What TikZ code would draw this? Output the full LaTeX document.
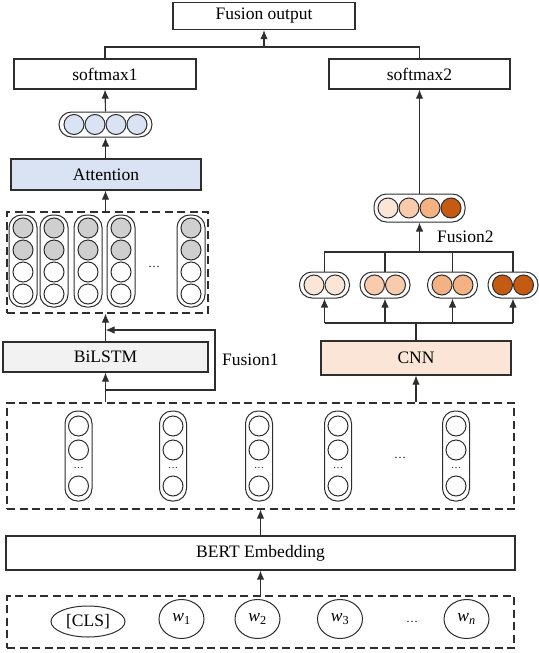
\documentclass[tikz,border=0pt]{standalone}
\usepackage{fontspec}
\setmainfont{Liberation Serif}
\usetikzlibrary{arrows.meta,shapes.geometric}
\definecolor{attblue}{HTML}{DAE3F3}
\definecolor{lstmgray}{HTML}{F2F2F2}
\definecolor{ballgray}{HTML}{CFCFCF}
\definecolor{or1}{HTML}{FBE5D6}
\definecolor{or2}{HTML}{F8CBAD}
\definecolor{or3}{HTML}{F4B183}
\definecolor{or4}{HTML}{C55A11}
\definecolor{ink}{HTML}{2E2E2E}

\begin{document}
\begin{tikzpicture}[x=1pt,y=-1pt,
  box/.style={draw=ink,line width=1.2pt,inner sep=0pt,font=\fontsize{17.5}{20}\selectfont},
  dbox/.style={draw=ink,line width=1.1pt,dash pattern=on 8pt off 4.5pt,inner sep=0pt},
  pill/.style={draw=ink,line width=1pt,rounded corners=12.5pt,inner sep=0pt},
  ball/.style={draw=ink,line width=1pt},
  arr/.style={draw=ink,line width=1.1pt,-{Latex[length=9pt,width=7.5pt]}},
  link/.style={draw=ink,line width=1.1pt},
  lbl/.style={font=\fontsize{17.5}{20}\selectfont,inner sep=0pt},
  ellip/.style={font=\fontsize{12}{14}\selectfont,inner sep=0pt}]
\useasboundingbox (0,0) rectangle (538,653);

% output side
\node[box,minimum width=182pt,minimum height=27pt] (out) at (264,16) {Fusion output};
\node[box,minimum width=182pt,minimum height=30pt] (sm1) at (105,74) {softmax1};
\node[box,minimum width=181pt,minimum height=30pt] (sm2) at (419.5,74) {softmax2};
\coordinate (top) at (264,47);
\draw[link] (sm1.north) |- (top) -| (sm2.north);
\draw[arr] (top) -- (out.south);

% attention branch
\node[pill,minimum width=93pt,minimum height=25pt] (av) at (105.5,124.5) {};
\foreach \x in {74,95,116,137} \draw[ball,fill=attblue] (\x,124.5) circle (10pt);
\draw[arr] (av.north) -- (sm1.south);
\node[box,fill=attblue,minimum width=190pt,minimum height=31pt] (att) at (106,174.5) {Attention};
\draw[arr] (av |- att.north) -- (av.south);
\node[dbox,minimum width=201pt,minimum height=101pt] (hid) at (107.5,262.5) {};
\draw[arr] (av |- hid.north) -- (av |- att.south);
\foreach \x [count=\i] in {23,54,88,121,191} {
  \node[pill,minimum width=28pt,minimum height=92pt] (h\i) at (\x,261) {};
  \foreach \y in {228,250} \draw[ball,fill=ballgray] (\x,\y) circle (10pt);
  \foreach \y in {272,294} \draw[ball] (\x,\y) circle (10pt);
}
\node[ellip] (hd) at (154,267) {\dots};

\node[box,fill=lstmgray,minimum width=205pt,minimum height=30pt] (lstm) at (105.5,357) {BiLSTM};
\draw[arr] (lstm.north) -- (lstm.north |- hid.south);

% shared embedding layer
\node[dbox,minimum width=507pt,minimum height=106pt] (emb) at (260.5,456) {};
\draw[arr] (lstm.south |- emb.north) -- (lstm.south);
\coordinate (fa) at (215,390);
\coordinate (fb) at (215,330);
\draw[arr] (lstm.south |- fa) -- (fa) -- (fb) -- (lstm.north |- fb);
\node[lbl,anchor=west] (f1) at (222,360) {Fusion1};

\foreach \x [count=\i] in {78.5,173,259,338,456} {
  \node[pill,minimum width=27pt,minimum height=90pt] (e\i) at (\x,456) {};
  \foreach \y in {426,450,486} \draw[ball] (\x,\y) circle (10pt);
  \node[ellip,font=\fontsize{10}{12}\selectfont] (ed\i) at (\x,468) {\dots};
}
\node[ellip] (ed) at (400,458) {\dots};

% cnn branch
\node[box,fill=or1,minimum width=190pt,minimum height=34pt] (cnn) at (416,358) {CNN};
\draw[arr] (cnn.south |- emb.north) -- (cnn.south);
\foreach \x/\c [count=\i] in {324.5/or1,385/or2,452.5/or3,513/or4} {
  \node[pill,minimum width=50pt,minimum height=26pt] (p\i) at (\x,285) {};
  \draw[ball,fill=\c] (\x-10.5,285) circle (10pt);
  \draw[ball,fill=\c] (\x+10.5,285) circle (10pt);
}
\coordinate (cs) at (416,323);
\draw[link] (cnn.north) -- (cs);
\draw[link] (p1.south |- cs) -- (p4.south |- cs);
\foreach \i in {1,...,4} \draw[arr] (p\i.south |- cs) -- (p\i.south);

\coordinate (fs) at (419.5,252);
\draw[link] (p1.north) |- (fs) -| (p4.north);
\foreach \i in {2,3} \draw[link] (p\i.north) -- (p\i.north |- fs);
\node[pill,minimum width=91pt,minimum height=28pt] (fz) at (419.5,208) {};
\foreach \x/\c in {388/or1,409/or2,430/or3,451/or4} \draw[ball,fill=\c] (\x,208) circle (10pt);
\draw[arr] (fs) -- (fz.south);
\draw[arr] (fz.north) -- (sm2.south);
\node[lbl,anchor=west] (f2) at (437,237) {Fusion2};

% bert and input tokens
\node[box,minimum width=509pt,minimum height=34pt] (bert) at (260.5,553) {BERT Embedding};
\draw[arr] (bert.north) -- (emb.south);
\node[dbox,minimum width=507pt,minimum height=52pt] (inp) at (260.5,622) {};
\draw[arr] (inp.north) -- (bert.south);
\node[ball,lbl,ellipse,minimum width=74pt,minimum height=31pt] (cls) at (88,621.5) {[CLS]};
\foreach \x/\t [count=\i] in {181.5/1,257.5/2,340/3,466.5/\textit{n}}
  \node[ball,lbl,ellipse,minimum width=45pt,minimum height=39pt] (w\i) at (\x,619) {\textit{w}\textsubscript{\t}};
\node[ellip] (wd) at (412,622) {\dots};
\end{tikzpicture}
\end{document}
